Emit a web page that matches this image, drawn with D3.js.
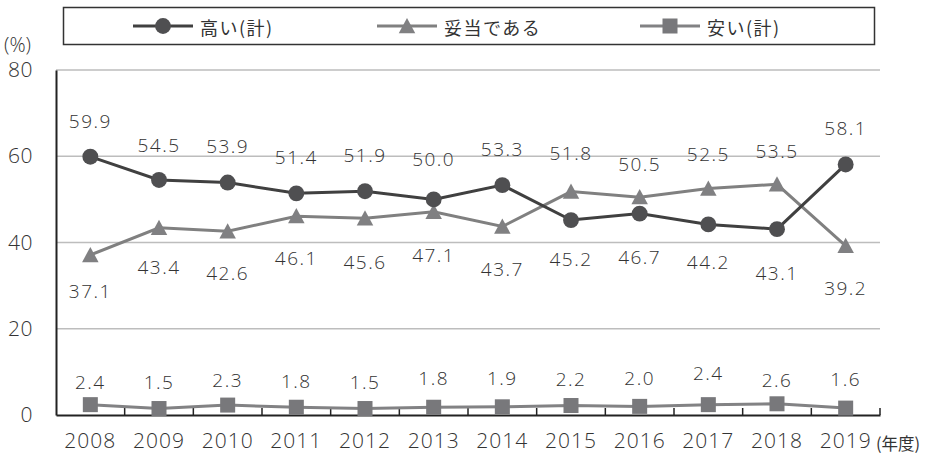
<!DOCTYPE html>
<meta charset="utf-8">
<script src="https://d3js.org/d3.v7.min.js"></script>
<style>
  body { margin: 0; background: #fff; }
  text { font-family: "Open Sans", "Liberation Sans", Arial, sans-serif; font-weight: 300; fill: #333; }
  .jp { font-family: "Noto Sans CJK JP", sans-serif; font-weight: 400; }
</style>
<body></body>
<script>

// DATA

var years = ["2008", "2009", "2010", "2011", "2012", "2013", "2014", "2015", "2016", "2017", "2018", "2019"];
var high = [59.9, 54.5, 53.9, 51.4, 51.9, 50.0, 53.3, 45.2, 46.7, 44.2, 43.1, 58.1];
var fair = [37.1, 43.4, 42.6, 46.1, 45.6, 47.1, 43.7, 51.8, 50.5, 52.5, 53.5, 39.2];
var low = [2.4, 1.5, 2.3, 1.8, 1.5, 1.8, 1.9, 2.2, 2.0, 2.4, 2.6, 1.6];
var seriesNames = ["高い(計)", "妥当である", "安い(計)"];
var yTicks = [0, 20, 40, 60, 80];

// label offsets (px from point), layout only
var highDy = [-36, -35, -37, -36, -36, -40, -36, 39, 43, 38, 44, -36];
var fairDy = [36, 39, 42, 42, 44, 43, 42, -39, -33, -35, -33, 42];
var lowDy = [-23, -27, -25, -26, -27, -29, -29, -27, -28, -32, -24, -29];

var width = 937;
var height = 454;
var margin = { top: 70, left: 56, right: 57, bottom: 39 };

var series = [
  { name: seriesNames[0], values: high, dy: highDy, line: "#404040", fill: "#4f4f51", shape: "circle" },
  { name: seriesNames[1], values: fair, dy: fairDy, line: "#808080", fill: "#808082", shape: "triangle" },
  { name: seriesNames[2], values: low, dy: lowDy, line: "#828284", fill: "#78787b", shape: "square" }
];

// SVG SETUP

var svg = d3.select("body")
  .append("svg")
  .attr("width", width)
  .attr("height", height);

// SCALES

var x = d3.scaleBand()
  .domain(years)
  .range([margin.left, width - margin.right]);

var y = d3.scaleLinear()
  .domain([0, 80])
  .range([height - margin.bottom, margin.top]);

var cx = function (i) { return x(years[i]) + x.bandwidth() / 2; };

// GRID

svg.append("g")
  .selectAll("line")
  .data(yTicks.filter(function (d) { return d > 0; }))
  .enter().append("line")
    .attr("x1", margin.left)
    .attr("x2", width - margin.right)
    .attr("y1", function (d) { return y(d); })
    .attr("y2", function (d) { return y(d); })
    .attr("stroke", "#bdbdbd")
    .attr("stroke-width", 1.5);

// AXES

var yAxis = svg.append("g")
  .attr("transform", "translate(" + margin.left + ",0)")
  .call(d3.axisLeft(y).tickValues(yTicks).tickSize(0).tickPadding(23));
yAxis.select(".domain").attr("stroke", "#222").attr("stroke-width", 2);
yAxis.selectAll("text")
  .style("font-size", "21px")
  .style("letter-spacing", "0.5px")
  .attr("fill", "#333");

var xAxis = svg.append("g")
  .attr("transform", "translate(0," + y(0) + ")")
  .call(d3.axisBottom(x).tickSize(0).tickPadding(18));
xAxis.select(".domain").attr("stroke", "#222").attr("stroke-width", 2);
xAxis.selectAll("text")
  .style("font-size", "21px")
  .style("letter-spacing", "1px")
  .attr("fill", "#333");
svg.selectAll(".tick text").attr("font-family", null);
svg.selectAll("g[font-family]").attr("font-family", null);

// inner ticks at category boundaries
svg.append("g")
  .selectAll("line")
  .data(years.slice(1).concat(["end"]))
  .enter().append("line")
    .attr("x1", function (d) { return d === "end" ? width - margin.right : x(d); })
    .attr("x2", function (d) { return d === "end" ? width - margin.right : x(d); })
    .attr("y1", y(0))
    .attr("y2", y(0) - 7)
    .attr("stroke", "#222")
    .attr("stroke-width", 1.5);

svg.append("text")
  .attr("x", 4)
  .attr("y", 44)
  .attr("dominant-baseline", "central")
  .style("font-size", "20px")
  .text("(%)");

svg.append("text")
  .attr("class", "jp")
  .attr("x", 876)
  .attr("y", 443)
  .attr("dominant-baseline", "central")
  .style("font-size", "16.5px")
  .text("(年度)");

// MARKERS

function drawMarker(g, shape, px, py, fill, s) {
  if (shape === "circle") {
    g.append("circle").attr("cx", px).attr("cy", py).attr("r", s * 0.53).attr("fill", fill);
  } else if (shape === "triangle") {
    var h = s * 0.95;
    g.append("path")
      .attr("d", "M" + px + "," + (py - h / 2 - 1) + "L" + (px + s * 0.55) + "," + (py + h / 2) + "L" + (px - s * 0.55) + "," + (py + h / 2) + "Z")
      .attr("fill", fill);
  } else {
    g.append("rect").attr("x", px - s / 2).attr("y", py - s / 2).attr("width", s).attr("height", s).attr("fill", fill);
  }
}

// LINES

var line = d3.line()
  .x(function (d, i) { return cx(i); })
  .y(function (d) { return y(d); });

series.slice().reverse().forEach(function (s) {
  svg.append("path")
    .datum(s.values)
    .attr("fill", "none")
    .attr("stroke", s.line)
    .attr("stroke-width", 3)
    .attr("d", line);
});

series.slice().reverse().forEach(function (s) {
  var g = svg.append("g");
  s.values.forEach(function (v, i) {
    drawMarker(g, s.shape, cx(i), y(v), s.fill, 15);
  });
});

// DATA LABELS

series.forEach(function (s) {
  svg.append("g")
    .selectAll("text")
    .data(s.values)
    .enter().append("text")
      .attr("x", function (d, i) { return cx(i); })
      .attr("y", function (d, i) { return y(d) + s.dy[i]; })
      .attr("text-anchor", "middle")
      .attr("dominant-baseline", "central")
      .style("font-size", "19px")
      .style("letter-spacing", "1.5px")
      .text(function (d) { return d.toFixed(1); });
});

// LEGEND

var legend = svg.append("g");
legend.append("rect")
  .attr("x", 63.5)
  .attr("y", 7.5)
  .attr("width", 811)
  .attr("height", 37)
  .attr("fill", "#fff")
  .attr("stroke", "#333")
  .attr("stroke-width", 1.5);

var legendX = [133, 377, 640];
series.forEach(function (s, i) {
  var lx = legendX[i];
  legend.append("line")
    .attr("x1", lx).attr("x2", lx + 60)
    .attr("y1", 26).attr("y2", 26)
    .attr("stroke", s.line)
    .attr("stroke-width", 3);
  drawMarker(legend, s.shape, lx + 30, 26, s.fill, 15);
  legend.append("text")
    .attr("class", "jp")
    .attr("x", lx + 67)
    .attr("y", 27)
    .attr("dominant-baseline", "central")
    .style("font-size", "18px")
    .style("letter-spacing", "1.5px")
    .text(s.name);
});

</script>
